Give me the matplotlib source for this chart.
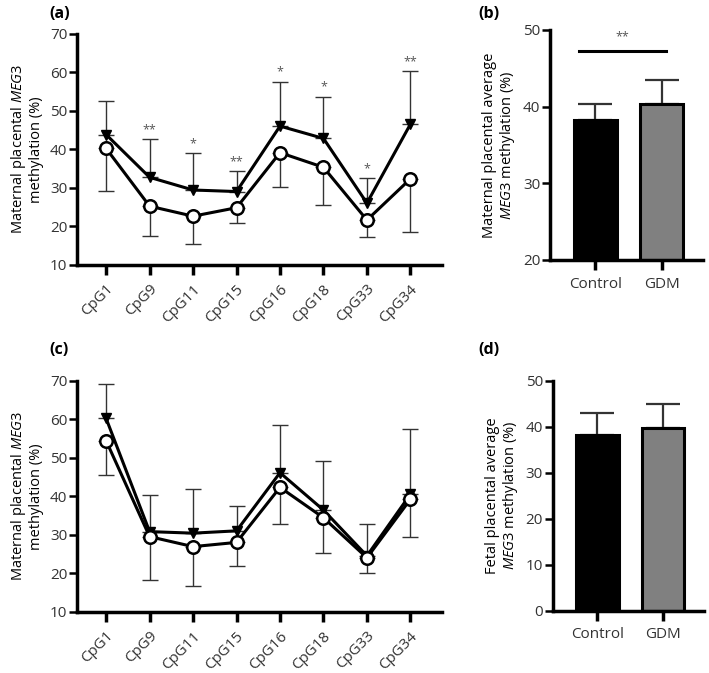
import numpy as np
import matplotlib
matplotlib.use('Agg')
import matplotlib.pyplot as plt
import matplotlib.transforms as mtransforms

plt.rcParams['font.family'] = ['Open Sans', 'DejaVu Sans']
plt.rcParams['mathtext.fontset'] = 'custom'
plt.rcParams['mathtext.rm'] = 'Open Sans'
plt.rcParams['mathtext.it'] = 'Open Sans:italic'
plt.rcParams['text.color'] = '#333333'

# CpG sites
cpg = ['CpG1', 'CpG9', 'CpG11', 'CpG15', 'CpG16', 'CpG18', 'CpG33', 'CpG34']

# (a) maternal placenta
a_gdm = [43.8, 32.7, 29.4, 29.0, 46.0, 42.8, 26.0, 46.5]
a_gdm_err = [8.8, 9.9, 9.5, 5.3, 11.5, 10.8, 6.4, 13.8]
a_ctrl = [40.2, 25.2, 22.6, 24.8, 39.1, 35.3, 21.6, 32.3]
a_ctrl_err = [11.1, 7.8, 7.3, 3.9, 8.8, 9.8, 4.5, 13.9]
a_stars = ['', '**', '*', '**', '*', '*', '*', '**']

# (c) fetal placenta
c_gdm = [60.2, 30.8, 30.4, 31.0, 46.1, 36.4, 24.5, 40.5]
c_gdm_err = [8.9, 9.5, 11.4, 6.5, 12.3, 12.8, 8.3, 17.0]
c_ctrl = [54.4, 29.5, 26.9, 28.0, 42.3, 34.4, 24.0, 39.2]
c_ctrl_err = [8.9, 11.3, 10.2, 6.1, 9.6, 9.1, 3.9, 9.7]

# (b), (d) averages
groups = ['Control', 'GDM']
b_means = [38.2, 40.4]
b_err = [2.15, 3.1]
d_means = [38.2, 39.7]
d_err = [4.7, 5.2]
bar_colors = ['black', '#808080']

fig = plt.figure(figsize=(7.09, 6.73), dpi=100)


def style(ax):
    for s in ['top', 'right']:
        ax.spines[s].set_visible(False)
    for s in ['left', 'bottom']:
        ax.spines[s].set_linewidth(2.5)
    ax.tick_params(axis='y', width=1.8, length=6, labelsize=11, labelcolor='#333333', pad=1)
    ax.tick_params(axis='x', width=2.5, length=7, labelsize=11, labelcolor='#333333')


def line_panel(rect, gdm, gdm_err, ctrl, ctrl_err, ylabel, stars=None):
    ax = fig.add_axes(rect)
    x = np.arange(len(cpg))
    ax.errorbar(x, gdm, yerr=[np.zeros(len(x)), gdm_err], fmt='none',
                ecolor='#333333', elinewidth=1.0, capsize=6, capthick=1.0, zorder=2)
    ax.errorbar(x, ctrl, yerr=[ctrl_err, np.zeros(len(x))], fmt='none',
                ecolor='#333333', elinewidth=1.0, capsize=6, capthick=1.0, zorder=2)
    ax.plot(x, gdm, color='black', lw=2.2, marker='v', ms=7, mfc='black',
            mec='black', zorder=3)
    ax.plot(x, ctrl, color='black', lw=2.2, marker='o', ms=9, mfc='white',
            mec='black', mew=1.8, zorder=4)
    if stars:
        for i, s in enumerate(stars):
            if s:
                ax.text(x[i], gdm[i] + gdm_err[i] + 0.8, s, ha='center', va='bottom',
                        fontsize=9, color='#555555')
    ax.set_xlim(-0.67, 7.73)
    ax.set_ylim(10, 70)
    ax.set_yticks(np.arange(10, 71, 10))
    ax.set_xticks(x)
    ax.set_xticklabels(cpg, rotation=45, ha='right', va='center', rotation_mode='anchor')
    ax.set_ylabel(ylabel, fontsize=10.5, labelpad=4, linespacing=1.1)
    style(ax)
    ax.tick_params(axis='x', pad=9)
    shift = mtransforms.ScaledTranslation(0.05, 0, fig.dpi_scale_trans)
    for lbl in ax.get_xticklabels():
        lbl.set_transform(lbl.get_transform() + shift)
    return ax


def bar_panel(rect, means, err, ylim, yticks, ylabel, sig=False):
    ax = fig.add_axes(rect)
    x = np.arange(len(groups))
    ax.bar(x, means, width=0.65, color=bar_colors, edgecolor='black',
           linewidth=2.2, zorder=2)
    ax.errorbar(x, means, yerr=[np.zeros(len(x)), err], fmt='none',
                ecolor='#333333', elinewidth=1.6, capsize=12, capthick=1.6, zorder=1)
    if sig:
        ax.plot([-0.24, 1.07], [47.3, 47.3], color='black', lw=2.2, clip_on=False)
        ax.text(0.41, 48.2, '**', ha='center', va='bottom', fontsize=9, color='#555555')
    ax.set_xlim(-0.68, 1.62)
    ax.set_ylim(*ylim)
    ax.set_yticks(yticks)
    ax.set_xticks(x)
    ax.set_xticklabels(groups, fontsize=11)
    ax.set_ylabel(ylabel, fontsize=10.5, labelpad=4, linespacing=1.1)
    style(ax)
    ax.tick_params(axis='x', labelsize=11, pad=5)
    return ax


line_panel([0.1086, 0.6067, 0.515, 0.3432], a_gdm, a_gdm_err, a_ctrl, a_ctrl_err,
           'Maternal placental $\\mathit{MEG3}$\nmethylation (%)', stars=a_stars)
bar_panel([0.7757, 0.6137, 0.216, 0.3418], b_means, b_err, (20, 50), [20, 30, 40, 50],
          'Maternal placental average\n$\\mathit{MEG3}$ methylation (%)', sig=True)
line_panel([0.1086, 0.0911, 0.515, 0.3432], c_gdm, c_gdm_err, c_ctrl, c_ctrl_err,
           'Maternal placental $\\mathit{MEG3}$\nmethylation (%)')
bar_panel([0.7795, 0.0926, 0.213, 0.3418], d_means, d_err, (0, 50), np.arange(0, 51, 10),
          'Fetal placental average\n$\\mathit{MEG3}$ methylation (%)')

for lab, px, py in [('(a)', 49, 14), ('(b)', 478, 14), ('(c)', 49, 350), ('(d)', 478, 350)]:
    fig.text(px / 709, 1 - py / 673, lab, fontsize=11.5, fontweight='bold',
             color='black', va='center', ha='left')

fig.savefig('out.png', dpi=100)
